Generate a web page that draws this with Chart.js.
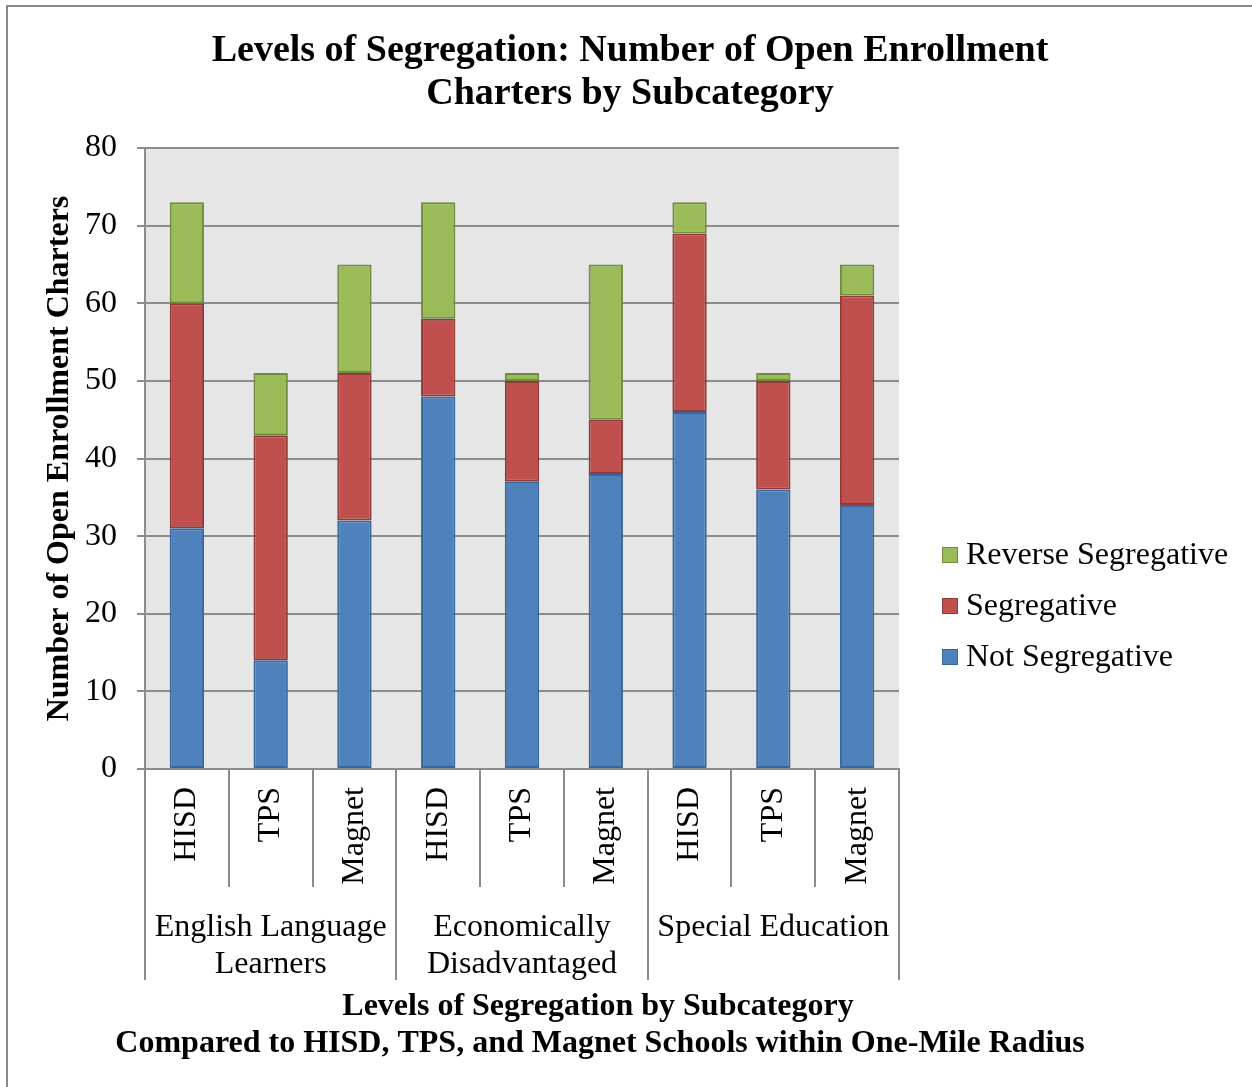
<!DOCTYPE html>
<html lang="en">
<head>
<meta charset="UTF-8">
<title>Levels of Segregation</title>
<script src="https://cdn.jsdelivr.net/npm/chart.js"></script>
<style>
  body { margin: 0; background: #fff; }
  canvas { display: block; }
</style>
</head>
<body>
<canvas id="chart" width="1252" height="1087"></canvas>
<script>
// data
const subLabels = ['HISD', 'TPS', 'Magnet', 'HISD', 'TPS', 'Magnet', 'HISD', 'TPS', 'Magnet'];
const groupLabels = [['English Language', 'Learners'], ['Economically', 'Disadvantaged'], ['Special Education']];
const groupSize = 3;
const notSegregative = [31, 14, 32, 48, 37, 38, 46, 36, 34];
const segregative = [29, 29, 19, 10, 13, 7, 23, 14, 27];
const reverseSegregative = [13, 8, 14, 15, 1, 20, 4, 1, 4];

const serif = '"Liberation Serif", "Times New Roman", serif';
const gridGray = '#8c8c8c';

// plot background, title, 2-level x labels, x title, legend, frame
const decor = {
    id: 'decor',
    beforeDraw(chart) {
        const { ctx, chartArea: a } = chart;
        ctx.save();
        ctx.fillStyle = '#fff';
        ctx.fillRect(0, 0, chart.width, chart.height);
        ctx.fillStyle = '#e6e6e6';
        ctx.fillRect(a.left, a.top, a.right - a.left, a.bottom - a.top);
        ctx.restore();
    },
    afterDraw(chart) {
        const { ctx, chartArea: a } = chart;
        const x = chart.scales.x;
        const n = subLabels.length;
        const step = (x.getPixelForValue(1) - x.getPixelForValue(0));
        ctx.save();
        ctx.strokeStyle = gridGray;
        ctx.lineWidth = 2;
        // separators
        for (let i = 0; i <= n; i++) {
            const px = Math.round(x.getPixelForValue(i) - step / 2);
            const isGroup = i % groupSize === 0;
            ctx.beginPath();
            ctx.moveTo(px, a.bottom);
            ctx.lineTo(px, isGroup ? 980 : 887);
            ctx.stroke();
        }
        ctx.fillStyle = '#000';
        ctx.textAlign = 'center';
        ctx.textBaseline = 'middle';
        // chart title
        ctx.font = 'bold 38px ' + serif;
        ctx.fillText('Levels of Segregation: Number of Open Enrollment', 630, 51);
        ctx.fillText('Charters by Subcategory', 630, 94);
        // group labels
        ctx.font = '32px ' + serif;
        groupLabels.forEach((lines, g) => {
            const cx = (x.getPixelForValue(g * groupSize) + x.getPixelForValue(g * groupSize + groupSize - 1)) / 2;
            lines.forEach((t, k) => ctx.fillText(t, cx, 928 + k * 37));
        });
        // x title
        ctx.font = 'bold 32px ' + serif;
        ctx.fillText('Levels of Segregation by Subcategory', 598, 1007);
        ctx.fillText('Compared to HISD, TPS, and Magnet Schools within One-Mile Radius', 600, 1044);
        // legend (reverse order like the reference)
        ctx.font = '32px ' + serif;
        ctx.textAlign = 'left';
        const ds = chart.data.datasets.slice().reverse();
        ds.forEach((d, k) => {
            const y = 555 + k * 51;
            ctx.fillStyle = d.backgroundColor;
            ctx.fillRect(942, y - 8, 16, 16);
            ctx.strokeStyle = d.borderColor;
            ctx.lineWidth = 1;
            ctx.strokeRect(942.5, y - 7.5, 15, 15);
            ctx.fillStyle = '#000';
            ctx.fillText(d.label, 966, y + 1);
        });
        // frame (left and top only)
        ctx.fillStyle = '#888';
        ctx.fillRect(6, 5, 2, chart.height - 5);
        ctx.fillRect(6, 5, chart.width - 6, 2);
        ctx.restore();
    }
};

new Chart(document.getElementById('chart'), {
    type: 'bar',
    data: {
        labels: subLabels,
        datasets: [
            { label: 'Not Segregative', data: notSegregative, backgroundColor: '#4f81bd', borderColor: '#3a6699' },
            { label: 'Segregative', data: segregative, backgroundColor: '#c0504d', borderColor: '#8f3b39' },
            { label: 'Reverse Segregative', data: reverseSegregative, backgroundColor: '#9bbb59', borderColor: '#718b3f' }
        ]
    },
    options: {
        responsive: false,
        animation: false,
        datasets: {
            bar: { categoryPercentage: 1, barPercentage: 0.41, borderWidth: 2, borderSkipped: false }
        },
        layout: { padding: { left: 0, right: 353, top: 148, bottom: 0 } },
        plugins: {
            legend: { display: false },
            tooltip: { enabled: false },
            title: { display: false }
        },
        scales: {
            x: {
                stacked: true,
                grid: { display: false, drawTicks: false },
                border: { color: gridGray, width: 2 },
                ticks: {
                    autoSkip: false, minRotation: 90, maxRotation: 90,
                    padding: 18, color: '#000',
                    font: { family: serif, size: 32 }
                },
                afterFit(scale) { scale.height = 318; }
            },
            y: {
                stacked: true,
                min: 0, max: 80,
                ticks: { stepSize: 10, padding: 20, color: '#000', font: { family: serif, size: 32 } },
                grid: { color: gridGray, lineWidth: 2, tickLength: 8 },
                border: { color: gridGray, width: 2 },
                title: {
                    display: true,
                    text: 'Number of Open Enrollment Charters',
                    color: '#000',
                    font: { family: serif, size: 32, weight: 'bold' },
                    padding: { top: 41, bottom: 0 }
                },
                afterFit(scale) { scale.width = 145; }
            }
        }
    },
    plugins: [decor]
});
</script>
</body>
</html>
